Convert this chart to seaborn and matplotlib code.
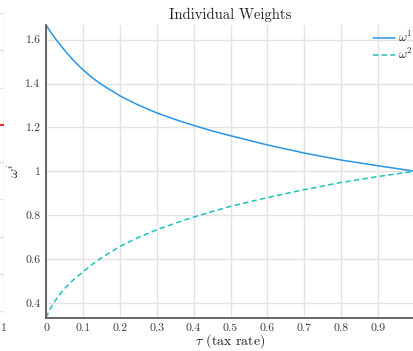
import matplotlib
matplotlib.use("Agg")
import matplotlib.pyplot as plt
import numpy as np
import pandas as pd
import seaborn as sns

# values
tau = [0.0, 0.01, 0.02, 0.03, 0.05, 0.075, 0.1, 0.125, 0.15, 0.2, 0.25, 0.3,
       0.35, 0.4, 0.45, 0.5, 0.6, 0.7, 0.8, 0.9, 1.0]
omega_1 = [1.667, 1.641, 1.617, 1.594, 1.552, 1.504, 1.463, 1.427, 1.396, 1.344,
           1.302, 1.266, 1.236, 1.209, 1.184, 1.162, 1.120, 1.083, 1.051, 1.025, 1.0]
omega_2 = [0.333, 0.368, 0.397, 0.422, 0.465, 0.506, 0.541, 0.575, 0.605, 0.657,
           0.698, 0.733, 0.763, 0.791, 0.816, 0.840, 0.880, 0.916, 0.949, 0.976, 1.0]
x_ticks = [0.0, 0.1, 0.2, 0.3, 0.4, 0.5, 0.6, 0.7, 0.8, 0.9]
y_ticks = [0.4, 0.6, 0.8, 1.0, 1.2, 1.4, 1.6]
series_names = [r"$\omega^1$", r"$\omega^2$"]
series_colors = ["#2a95e6", "#1fc1bb"]

# edge of the neighbouring panel that shows at the left of the crop
neighbor_grid = [0, 1, 2, 3, 4, 5, 6, 7, 8]
neighbor_red = 5.0

df = pd.DataFrame({
    "tau": tau * 2,
    "omega": omega_1 + omega_2,
    "series": [series_names[0]] * len(tau) + [series_names[1]] * len(tau),
})

sns.set_theme(style="whitegrid")
plt.rcParams["font.family"] = ["cmr10", "DejaVu Serif"]
plt.rcParams["mathtext.fontset"] = "cm"
plt.rcParams["axes.formatter.use_mathtext"] = True

W, H = 413, 351
fig = plt.figure(figsize=(W / 100, H / 100), dpi=100)
ax = fig.add_axes([46 / W, 1 - 317.5 / H, 369 / W, 292.5 / H])

grid_c = "#e3e3e3"
axis_c = "#5a5a5a"
text_c = "#3c3c3c"

sns.lineplot(data=df, x="tau", y="omega", hue="series", style="series",
             palette=series_colors, dashes=[(None, None), (3.5, 2.2)],
             linewidth=1.1, ax=ax, legend=True)

ax.set_xlim(0, 1)
ax.set_ylim(0.3333, 1.6667)
ax.set_xticks(x_ticks)
ax.set_yticks(y_ticks)
ax.set_xticklabels([f"{v:g}" for v in x_ticks])
ax.set_yticklabels([f"{v:g}" for v in y_ticks])
ax.tick_params(axis="both", direction="in", length=3, width=1, color=axis_c,
               labelsize=8.5, labelcolor=text_c, pad=4)
ax.grid(True, color=grid_c, linewidth=1)
ax.set_facecolor("white")
for s in ["top", "right"]:
    ax.spines[s].set_visible(False)
for s in ["left", "bottom"]:
    ax.spines[s].set_color(axis_c)
    ax.spines[s].set_linewidth(1.3)

ax.set_title("Individual Weights", fontsize=10.5, color="#222222", pad=4)
ax.set_xlabel(r"$\tau$ (tax rate)", fontsize=10, color="#222222", labelpad=0)
ax.set_ylabel(r"$\omega^i$", fontsize=10, color="#222222", labelpad=2)

handles, labels = ax.get_legend_handles_labels()
ax.legend(handles, labels, loc="upper right",
          bbox_to_anchor=(413 / W, 1 - 30 / H), bbox_transform=fig.transFigure,
          frameon=False, fontsize=9, handlelength=1.7, handletextpad=0.3,
          labelspacing=0.15, borderaxespad=0, borderpad=0)

# neighbouring panel, mostly outside the crop
nb = fig.add_axes([-60 / W, 1 - 315 / H, 64 / W, 302 / H])
nb.set_xlim(0, 1)
nb.set_ylim(-0.1, 8)
nb.set_yticks(neighbor_grid)
nb.set_yticklabels([])
nb.set_xticks([1])
nb.set_xticklabels(["1"])
nb.tick_params(axis="both", length=0, labelsize=8.5, labelcolor=text_c, pad=6)
nb.grid(True, color=grid_c, linewidth=1)
for s in nb.spines.values():
    s.set_visible(False)
nb.plot([0, 1], [neighbor_red, neighbor_red], color="#e0201b", linewidth=1.3)

fig.savefig("out.png", dpi=100)
